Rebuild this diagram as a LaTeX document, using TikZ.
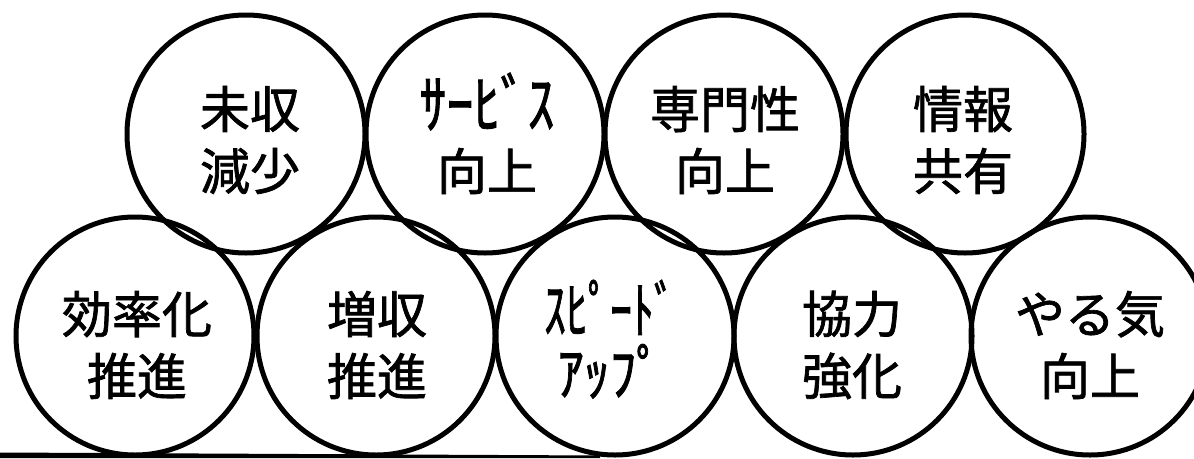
\documentclass[tikz,border=0pt]{standalone}
\usepackage{fontspec}
\newfontfamily\jp[FakeBold=1.4]{Noto Sans CJK JP}
\newcommand\hwk[3]{\smash{\scalebox{#1}[#2]{#3}}\vphantom{向}}
\tikzset{
  bubble/.style={circle, draw=black, line width=5pt, minimum size=238pt, inner sep=0pt},
  lbl/.style={align=center, font=\jp\fontsize{50}{62}\selectfont, inner sep=0pt}
}
\begin{document}
\begin{tikzpicture}[x=1pt,y=-1pt]
\useasboundingbox (0,0) rectangle (1194,458);
\clip (0,0) rectangle (1194,458);
% top row
\node[bubble] (t1) at (246,134) {};
\node[bubble] (t2) at (485,134) {};
\node[bubble] (t3) at (724,134) {};
\node[bubble] (t4) at (965,134) {};
% bottom row
\node[bubble] (b1) at (135,336) {};
\node[bubble] (b2) at (376,336) {};
\node[bubble] (b3) at (615,336) {};
\node[bubble] (b4) at (853,336) {};
\node[bubble] (b5) at (1090,336) {};
% labels
\node[lbl] (lt1) at (250,140) {未収\\減少};
\node[lbl] (lt2) at (487,140) {\hwk{1.08}{1.3}{ｻｰﾋﾞｽ}\\向上};
\node[lbl] (lt3) at (725,140) {専門性\\向上};
\node[lbl] (lt4) at (963,140) {情報\\共有};
\node[lbl] (lb1) at (137,345) {効率化\\推進};
\node[lbl] (lb2) at (377,345) {増収\\推進};
\node[lbl] (lb3) at (610,345) {\hwk{0.88}{1.25}{ｽﾋﾟｰﾄﾞ}\\\hwk{1.05}{1.2}{ｱｯﾌﾟ}};
\node[lbl] (lb4) at (852,345) {協力\\強化};
\node[lbl] (lb5) at (1090,345) {やる気\\向上};
% bottom bar
\fill[black] (0,452.5) -- (600,455.5) -- (600,458) -- (0,458) -- cycle;
\end{tikzpicture}
\end{document}
